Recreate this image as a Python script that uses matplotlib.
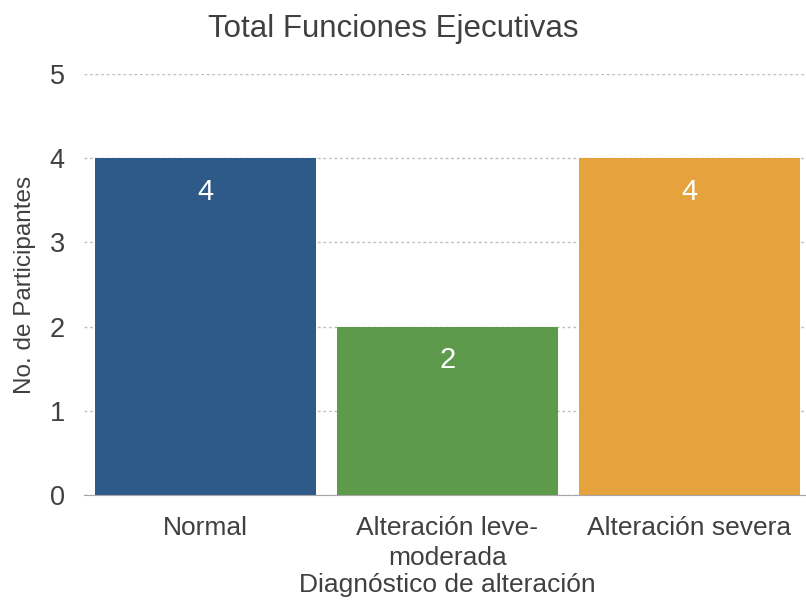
import matplotlib.pyplot as plt

categories = ["Normal", "Alteración leve-\nmoderada", "Alteración severa"]
values = [4, 2, 4]
colors = ["#2E5A8A", "#5E9A4B", "#E6A23D"]

plt.rcParams['font.family'] = ['Liberation Sans', 'DejaVu Sans']

fig = plt.figure(figsize=(8.06, 6.01), dpi=100)
ax = fig.add_axes([0.1045, 0.176, 0.9005, 0.701])

x = range(len(categories))
bars = ax.bar(x, values, width=0.913, color=colors, zorder=2)
for b, v in zip(bars, values):
    ax.annotate(str(v), (b.get_x() + b.get_width() / 2, v), xytext=(0, -24),
                textcoords='offset points', ha='center', va='center',
                color='white', fontsize=21)

ax.set_xlim(-0.5, 2.5)
ax.set_ylim(0, 5)
ax.set_yticks(range(6))
ax.set_xticks(list(x))
ax.set_xticklabels(categories, fontsize=19, color='#404040', linespacing=1.3)
ax.tick_params(axis='y', labelsize=19.5, colors='#404040', length=0, pad=14)
ax.tick_params(axis='x', length=0, pad=15)
ax.yaxis.grid(True, linestyle=(0, (2, 2)), color='#BFBFBF', linewidth=1, zorder=0)

for s in ["left", "right", "top"]:
    ax.spines[s].set_visible(False)
ax.spines["bottom"].set_color('#A6A6A6')

fig.text(0.488, 0.951, "Total Funciones Ejecutivas", fontsize=22.5,
         color='#404040', ha='center', va='center')
ax.set_ylabel("No. de Participantes", fontsize=17.5, color='#404040', labelpad=10)
ax.set_xlabel("Diagnóstico de alteración", fontsize=19, color='#404040', labelpad=2)

fig.savefig("out.png", dpi=100)
